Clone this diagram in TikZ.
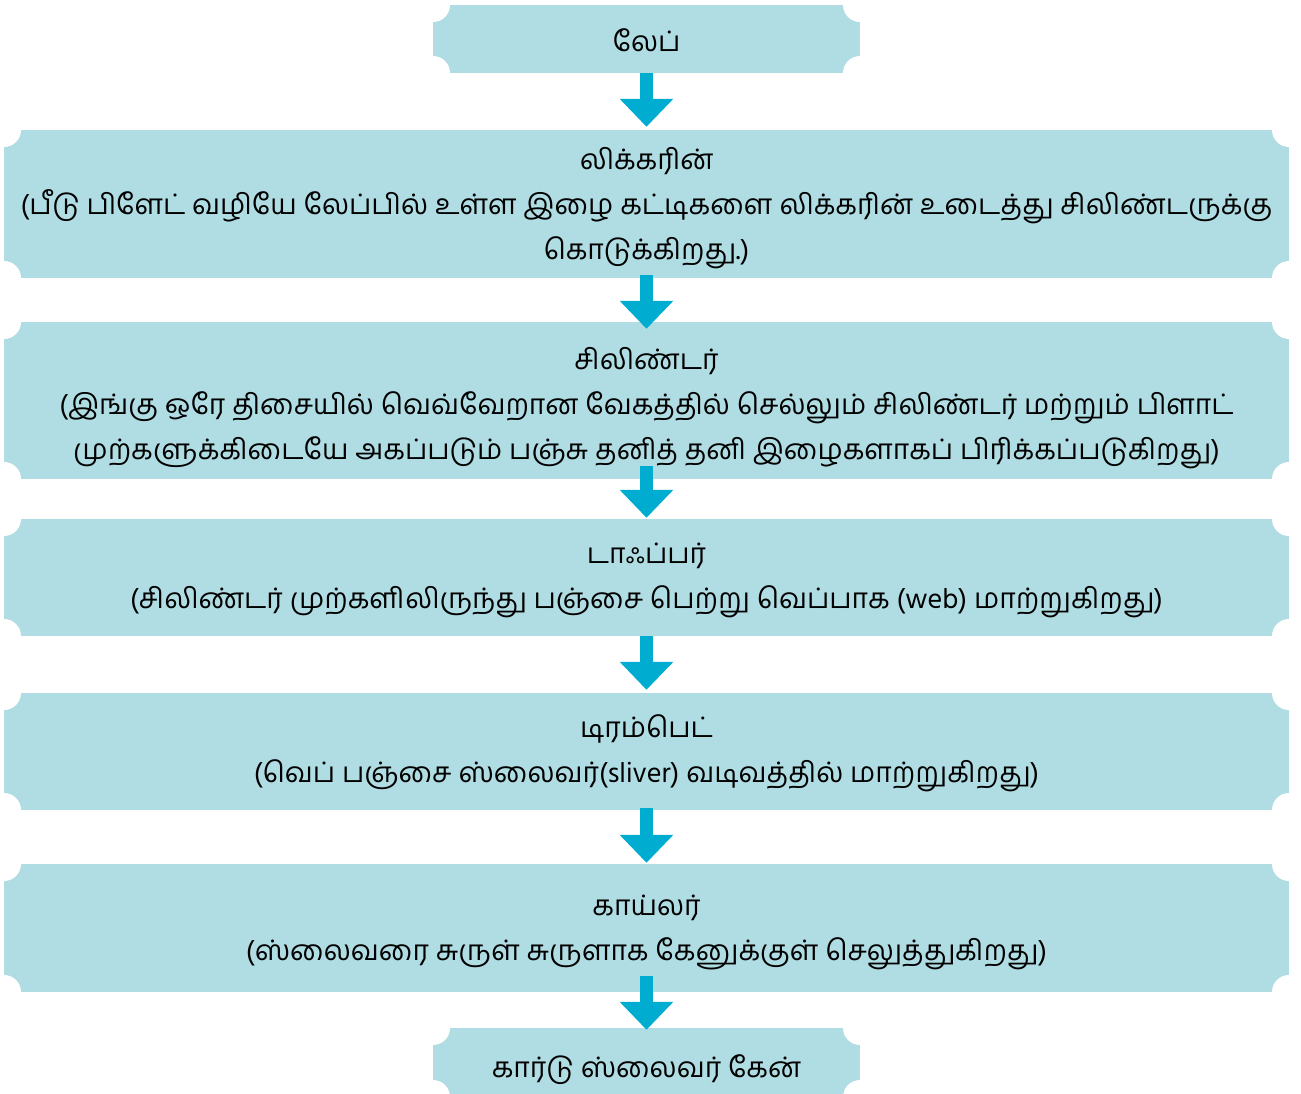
\documentclass[tikz,border=0pt]{standalone}
\usepackage{fontspec}
\newfontfamily\tamilfont[Script=Tamil]{Hind Madurai}
\usetikzlibrary{arrows.meta}
\definecolor{boxfill}{RGB}{176,221,227}
\definecolor{arrowc}{RGB}{0,173,208}
\newcommand\boxtext[2][-8pt]{\raisebox{#1}[0pt][0pt]{\begin{tabular}{@{}c@{}}#2\end{tabular}}}
\tikzset{
  ticket/.style={fill=boxfill, inner sep=0pt,
    font=\tamilfont\fontsize{28.2}{45}\selectfont,
    path picture={\fill[white]
      (path picture bounding box.north west) circle[radius=17pt]
      (path picture bounding box.north east) circle[radius=17pt]
      (path picture bounding box.south west) circle[radius=17pt]
      (path picture bounding box.south east) circle[radius=17pt];}},
  flowarrow/.style={draw=arrowc, line width=13pt,
    -{Triangle[length=28pt 0 0, width=52pt 0 0]}}
}
\begin{document}
\begin{tikzpicture}
\useasboundingbox (0,0) rectangle (1301pt,-1093pt);
\node[ticket, minimum width=427pt, minimum height=68pt] (lap) at (646.5pt,-39pt) {\boxtext[-10pt]{லேப்}};
\node[ticket, minimum width=1285pt, minimum height=148pt] (licker) at (646.5pt,-204pt)
  {\boxtext{லிக்கரின்\\(பீடு பிளேட் வழியே லேப்பில் உள்ள இழை கட்டிகளை லிக்கரின் உடைத்து சிலிண்டருக்கு\\கொடுக்கிறது.)}};
\node[ticket, minimum width=1285pt, minimum height=157pt] (cyl) at (646.5pt,-400.5pt)
  {\boxtext[-11pt]{சிலிண்டர்\\(இங்கு ஒரே திசையில் வெவ்வேறான வேகத்தில் செல்லும் சிலிண்டர் மற்றும் பிளாட்\\முற்களுக்கிடையே அகப்படும் பஞ்சு தனித் தனி இழைகளாகப் பிரிக்கப்படுகிறது)}};
\node[ticket, minimum width=1285pt, minimum height=117pt] (doffer) at (646.5pt,-577.5pt)
  {\boxtext[-6pt]{டாஃப்பர்\\(சிலிண்டர் முற்களிலிருந்து பஞ்சை பெற்று வெப்பாக (web) மாற்றுகிறது)}};
\node[ticket, minimum width=1285pt, minimum height=117pt] (trumpet) at (646.5pt,-751.5pt)
  {\boxtext[-6pt]{டிரம்பெட்\\(வெப் பஞ்சை ஸ்லைவர்(sliver) வடிவத்தில் மாற்றுகிறது)}};
\node[ticket, minimum width=1285pt, minimum height=128pt] (coiler) at (646.5pt,-928pt)
  {\boxtext[-7pt]{காய்லர்\\(ஸ்லைவரை சுருள் சுருளாக கேனுக்குள் செலுத்துகிறது)}};
\node[ticket, minimum width=427pt, minimum height=69pt] (can) at (646.5pt,-1062.5pt) {\boxtext[-12pt]{கார்டு ஸ்லைவர் கேன்}};

\draw[flowarrow] ([yshift=0pt]lap.south) -- ([yshift=3pt]licker.north);
\draw[flowarrow] ([yshift=3pt]licker.south) -- ([yshift=-7pt]cyl.north);
\draw[flowarrow] ([yshift=13pt]cyl.south) -- ([yshift=1pt]doffer.north);
\draw[flowarrow] ([yshift=0pt]doffer.south) -- ([yshift=3pt]trumpet.north);
\draw[flowarrow] ([yshift=2pt]trumpet.south) -- ([yshift=1pt]coiler.north);
\draw[flowarrow] ([yshift=16pt]coiler.south) -- ([yshift=-2pt]can.north);
\end{tikzpicture}
\end{document}
